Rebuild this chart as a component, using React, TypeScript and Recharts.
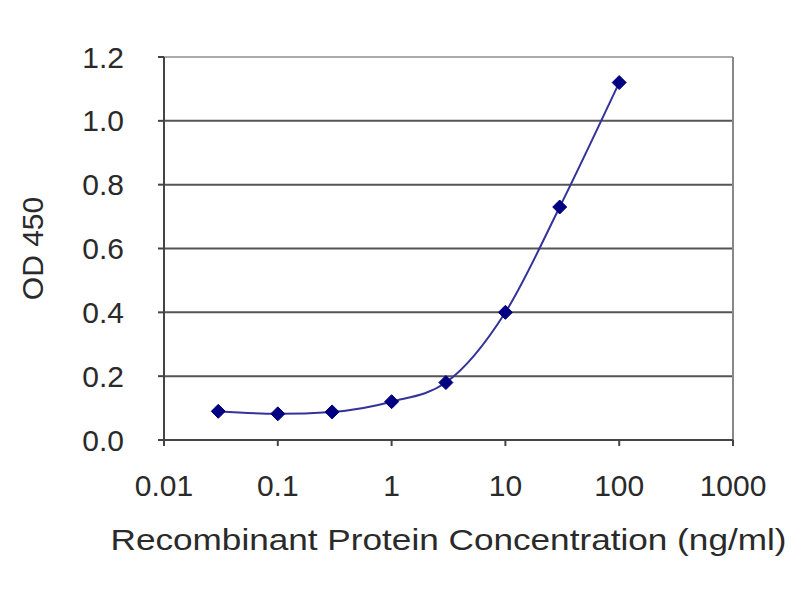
import React from 'react';
import {
  LineChart,
  Line,
  XAxis,
  YAxis,
  CartesianGrid,
  ReferenceLine,
} from 'recharts';

const concentrations = [0.03, 0.1, 0.3, 1, 3, 10, 30, 100];
const odValues = [0.09, 0.082, 0.088, 0.12, 0.18, 0.4, 0.73, 1.12];
const xTicks = [0.01, 0.1, 1, 10, 100, 1000];
const yTicks = [0, 0.2, 0.4, 0.6, 0.8, 1.0, 1.2];

const data = concentrations.map((c, i) => ({ conc: c, od: odValues[i] }));

const FONT = '"Liberation Sans", Arial, sans-serif';
const TEXT = '#2a2a2a';

const Diamond = (props: any) => {
  const { cx, cy } = props;
  if (cx == null || cy == null) return null;
  const r = 7;
  return (
    <polygon
      points={`${cx},${cy - r} ${cx + r},${cy} ${cx},${cy + r} ${cx - r},${cy}`}
      fill="#000080"
      stroke="#000080"
    />
  );
};

const YLabel = (props: any) => {
  const vb = props.viewBox || {};
  const cx = 32;
  const cy = (vb.y ?? 57) + (vb.height ?? 383) / 2;
  return (
    <text
      x={cx}
      y={cy}
      transform={`rotate(-90, ${cx}, ${cy})`}
      textAnchor="middle"
      dominantBaseline="central"
      fontSize={30}
      fontFamily={FONT}
      fill={TEXT}
    >
      OD 450
    </text>
  );
};

const XLabel = (props: any) => {
  const vb = props.viewBox || {};
  const cx = (vb.x ?? 164) + (vb.width ?? 569) / 2;
  return (
    <text
      x={cx}
      y={550}
      textAnchor="middle"
      fontSize={30}
      fontFamily={FONT}
      fill={TEXT}
      textLength={676}
      lengthAdjust="spacingAndGlyphs"
    >
      Recombinant Protein Concentration (ng/ml)
    </text>
  );
};

export default function App() {
  return (
    <div style={{ position: 'absolute', left: 0, top: 0, width: 800, height: 600, background: '#ffffff' }}>
      <LineChart
        width={800}
        height={600}
        data={data}
        margin={{ top: 57, right: 67, bottom: 0, left: 0 }}
      >
        <CartesianGrid vertical={false} stroke="#555555" strokeWidth={2} />
        <XAxis
          dataKey="conc"
          type="number"
          scale="log"
          domain={[0.01, 1000]}
          ticks={xTicks}
          interval={0}
          tickFormatter={(v: number) => String(v)}
          allowDataOverflow
          height={160}
          stroke="#444444"
          strokeWidth={2}
          tickSize={6}
          tickMargin={29}
          tick={{ fontSize: 30, fill: TEXT, fontFamily: FONT }}
          label={<XLabel />}
        />
        <YAxis
          type="number"
          domain={[0, 1.2]}
          ticks={yTicks}
          interval={0}
          tickFormatter={(v: number) => v.toFixed(1)}
          width={164}
          stroke="#444444"
          strokeWidth={2}
          tickSize={6}
          tickMargin={34}
          tick={{ fontSize: 30, fill: TEXT, fontFamily: FONT }}
          label={<YLabel />}
        />
        <ReferenceLine y={1.2} stroke="#aaaaaa" strokeWidth={2} />
        <ReferenceLine x={1000} stroke="#888888" strokeWidth={2} />
        <Line
          dataKey="od"
          type="monotone"
          stroke="#333399"
          strokeWidth={2}
          dot={<Diamond />}
          isAnimationActive={false}
        />
      </LineChart>
    </div>
  );
}
